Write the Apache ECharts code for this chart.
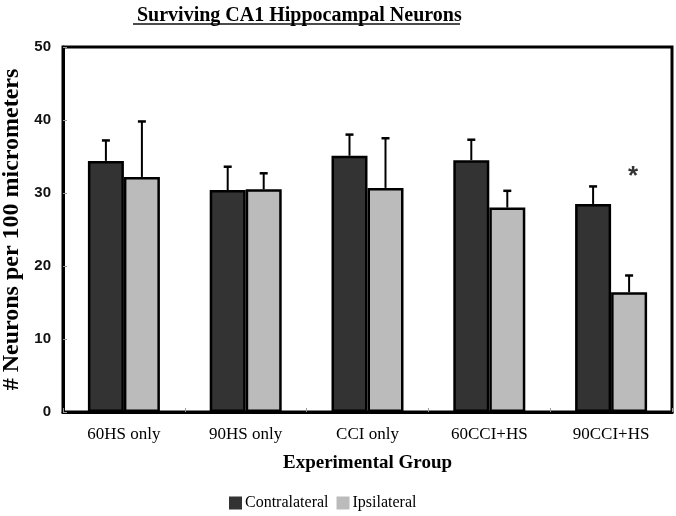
<!DOCTYPE html>
<html>
<head>
<meta charset="utf-8">
<script src="https://cdn.jsdelivr.net/npm/echarts@6/dist/echarts.min.js"></script>
<style>html,body{margin:0;padding:0;background:#fff}#c{width:676px;height:516px}</style>
</head>
<body>
<div id="c"></div>
<script>
const categories = ['60HS only', '90HS only', 'CCI only', '60CCI+HS', '90CCI+HS'];
const contralateral = [34.4, 30.4, 35.1, 34.5, 28.5];
const contralateralErr = [2.8, 3.2, 2.9, 2.8, 2.4];
const ipsilateral = [32.2, 30.5, 30.7, 28.0, 16.4];
const ipsilateralErr = [7.6, 2.2, 6.8, 2.3, 2.3];
const yTicks = [0, 10, 20, 30, 40, 50];
const significance = [[4, 32.7]];

const SERIF = '"Liberation Serif", "Times New Roman", serif';
const SANS = '"Liberation Sans", Arial, sans-serif';
const BAR_W = 36;

function errSeries(vals, errs, offset) {
  return {
    type: 'custom',
    silent: true,
    z: 3,
    data: vals.map((v, i) => [i, v, v + errs[i]]),
    renderItem: function (params, api) {
      const base = api.coord([api.value(0), api.value(1)]);
      const top = api.coord([api.value(0), api.value(2)]);
      const x = base[0] + offset;
      return {
        type: 'group',
        children: [
          { type: 'line', shape: { x1: x, y1: base[1], x2: x, y2: top[1] }, style: { stroke: '#000', lineWidth: 2 } },
          { type: 'line', shape: { x1: x - 4, y1: top[1], x2: x + 4, y2: top[1] }, style: { stroke: '#000', lineWidth: 2.5 } }
        ]
      };
    }
  };
}

const chart = echarts.init(document.getElementById('c'));
chart.setOption({
  animation: false,
  title: {
    text: 'Surviving CA1 Hippocampal Neurons',
    left: 132, top: 1,
    textStyle: { fontFamily: SERIF, fontWeight: 'bold', fontSize: 20, color: '#000' }
  },
  graphic: [{
    type: 'line', shape: { x1: 133, y1: 24, x2: 460, y2: 24 },
    style: { stroke: '#111', lineWidth: 1.5 }
  }],
  legend: {
    data: ['Contralateral', 'Ipsilateral'],
    left: 224, top: 490,
    icon: 'rect', itemWidth: 13, itemHeight: 13, itemGap: 8,
    textStyle: { fontFamily: SERIF, fontSize: 16, color: '#000', padding: [0, 0, 0, -2] },
    itemStyle: { borderWidth: 0 }
  },
  grid: {
    left: 63, right: 4, top: 47, bottom: 104,
    outerBoundsMode: 'none',
    containLabel: false,
    show: true, borderColor: '#000', borderWidth: 3, backgroundColor: '#fff'
  },
  xAxis: {
    type: 'category',
    data: categories,
    name: 'Experimental Group',
    nameLocation: 'middle',
    nameGap: 42,
    nameTextStyle: { fontFamily: SERIF, fontWeight: 'bold', fontSize: 19, color: '#000' },
    axisLine: { lineStyle: { color: '#000', width: 3 } },
    axisTick: { show: true, inside: true, length: 4, lineStyle: { color: '#999' } },
    axisLabel: { fontFamily: SERIF, fontSize: 17, color: '#000', margin: 14 }
  },
  yAxis: {
    type: 'value',
    min: 0, max: 50, interval: 10,
    name: '# Neurons per 100 micrometers',
    nameLocation: 'middle',
    nameGap: 39,
    nameTextStyle: { fontFamily: SERIF, fontWeight: 'bold', fontSize: 24, color: '#000' },
    axisLine: { show: true, lineStyle: { color: '#000', width: 3 } },
    axisTick: { show: true, inside: true, length: 4, lineStyle: { color: '#999' } },
    splitLine: { show: false },
    axisLabel: {
      fontFamily: SANS, fontWeight: 'bold', fontSize: 15, color: '#111', margin: 12,
      formatter: v => (yTicks.indexOf(v) >= 0 ? String(v) : '')
    }
  },
  series: [
    {
      name: 'Contralateral', type: 'bar', data: contralateral,
      barWidth: BAR_W, barGap: '0%',
      itemStyle: { color: '#333333', borderColor: '#000', borderWidth: 2.5 }
    },
    {
      name: 'Ipsilateral', type: 'bar', data: ipsilateral,
      barWidth: BAR_W, barGap: '0%',
      itemStyle: { color: '#bbbbbb', borderColor: '#000', borderWidth: 2.5 }
    },
    errSeries(contralateral, contralateralErr, -BAR_W / 2),
    errSeries(ipsilateral, ipsilateralErr, BAR_W / 2),
    {
      type: 'scatter', data: significance, symbolSize: 0, silent: true,
      label: {
        show: true, formatter: '*', position: 'inside', offset: [22, 4],
        fontFamily: SANS, fontWeight: 'bold', fontSize: 26, color: '#000'
      }
    }
  ]
});
</script>
</body>
</html>
